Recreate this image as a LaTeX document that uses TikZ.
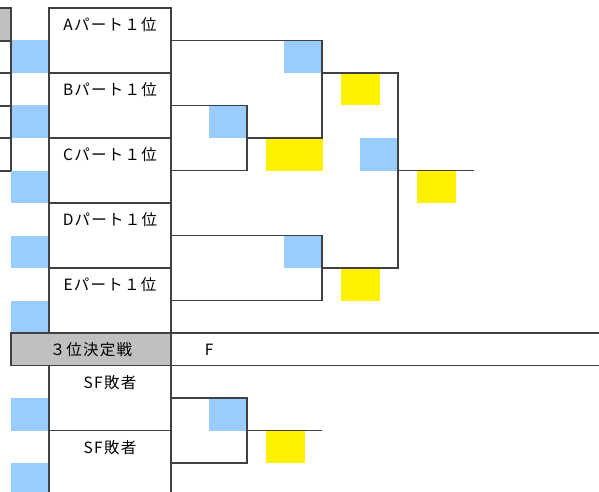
\documentclass[tikz,border=0pt]{standalone}
\usepackage{fontspec}
\newfontfamily\jpfont[LetterSpace=8]{Noto Sans CJK JP}
\usetikzlibrary{positioning,backgrounds}
\definecolor{cellblue}{HTML}{99CCFF}
\definecolor{cellyellow}{HTML}{FFF200}
\definecolor{cellgray}{HTML}{C0C0C0}
\definecolor{lncol}{HTML}{404040}
\tikzstyle{team box}=[
        draw = lncol,
        line width = 1.2pt,
        minimum width = 122pt,
        inner ysep = 0pt,
        text height = 22.5pt,
        text depth = 42.5pt,
        outer sep = 0pt
    ]
\tikzstyle{head box}=[
    draw = lncol,
    line width = 1.2pt,
    fill = cellgray,
    minimum width = 160pt,
    minimum height = 32.5pt,
    inner sep = 0pt,
    outer sep = 0pt
]
\tikzstyle{blue cell}=[
    fill = cellblue,
    minimum width = 38.5pt,
    minimum height = 32.5pt,
    inner sep = 0pt,
    outer sep = 0pt,
    anchor = south east
]
\tikzstyle{yellow cell}=[
    fill = cellyellow,
    minimum width = 39pt,
    minimum height = 32.5pt,
    inner sep = 0pt,
    outer sep = 0pt,
    anchor = north west,
    xshift = 18.5pt
]
\tikzstyle{bracket}=[draw = lncol, line width = 1.2pt]

\begin{document}
\begin{tikzpicture}[x=1pt, y=-1pt, node distance={0pt}, font=\jpfont\fontsize{15.5}{18}\selectfont]
        \useasboundingbox (0,0) rectangle (599,492);

        \node[team box] (A) at (110,40.5) {Aパート１位};
        \node[team box] (B) [below = of A] {Bパート１位};
        \node[team box] (C) [below = of B] {Cパート１位};
        \node[team box] (D) [below = of C] {Dパート１位};
        \node[team box] (E) [below = of D] {Eパート１位};
        \node[head box, anchor = north east] (third) at (E.south east) {３位決定戦};
        \node[anchor = north west, minimum width = 76pt, minimum height = 32.5pt] (F) at (third.north east) {F};
        \node[team box, anchor = north east] (SF1) at (third.south east) {SF敗者};
        \node[team box] (SF2) [below = of SF1] {SF敗者};

        \coordinate (qbc) at (247,138);
        \coordinate (sfa) at (322,73);
        \coordinate (sfb) at (322,268);
        \coordinate (fin) at (398,170.5);
        \coordinate (champ) at (474,170.5);
        \coordinate (q3) at (247,430.5);
        \coordinate (q3end) at (322,430.5);

        \draw[bracket] (B.east) -| (qbc) |- (C.east);
        \draw[bracket] (A.east) -| (sfa) |- (qbc);
        \draw[bracket] (D.east) -| (sfb) |- (E.east);
        \draw[bracket] (sfa) -| (fin) |- (sfb);
        \draw[bracket] (fin) -- (champ);
        \draw[bracket] (SF1.east) -| (q3) |- (SF2.east);
        \draw[bracket] (q3) -- (q3end);
        \draw[bracket] (third.north east) -- (599,333);
        \draw[bracket] (third.south east) -- (599,365.5);

        \draw[bracket, fill = cellgray] (-1,8) rectangle (11,41);
        \draw[bracket] (11,41) -- (11,171);
        \foreach \yy in {73,106,138,171}
            \draw[bracket] (0,\yy) -- (11,\yy);

        \begin{scope}[on background layer]
            \foreach \t in {A,B,C,D,E,SF1,SF2}
                \node[blue cell] (b\t) at (\t.south west) {};
            \foreach \m in {qbc,sfa,sfb,fin,q3}
                \node[blue cell] (b\m) at (\m) {};
            \foreach \m in {sfa,sfb,fin,q3}
                \node[yellow cell] (y\m) at (\m) {};
            \node[yellow cell, minimum width = 57pt] (yqbc) at (qbc) {};
        \end{scope}

    \end{tikzpicture}
\end{document}
